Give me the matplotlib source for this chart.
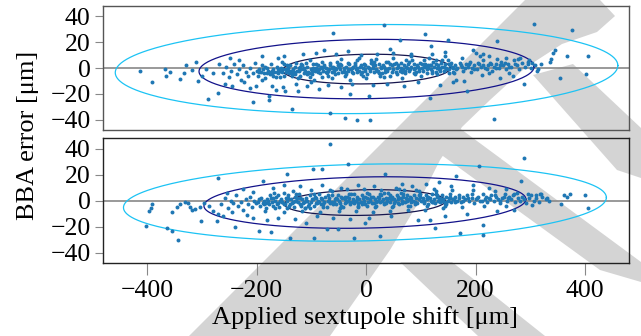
import numpy as np
import matplotlib
matplotlib.use('Agg')
import matplotlib.pyplot as plt
from matplotlib.patches import Polygon

plt.rcParams['font.family'] = ['Liberation Serif', 'DejaVu Serif']

# scatter points (applied shift [um], BBA error [um])
top_points = [
    # core band
    (-262, -4), (-255, 1), (-250, -7), (-246, -2), (-241, 3), (-236, -5), (-232, -1), (-228, -9),
    (-224, 2), (-219, -3), (-215, -6), (-211, 0), (-207, -4), (-203, 4), (-200, -2),
    (-198, -6), (-195, -1), (-192, -3), (-190, 2), (-187, -4), (-184, -8), (-181, 0), (-179, -2),
    (-176, -5), (-173, 3), (-170, -1), (-168, -3), (-165, -7), (-162, 1), (-160, -4), (-157, -2),
    (-154, 5), (-151, -1), (-149, -6), (-146, -3), (-143, 0), (-141, -2), (-138, 2), (-136, -5),
    (-133, -1), (-131, -3), (-128, 4), (-126, -2), (-123, 0), (-121, -6), (-118, -1), (-116, 2),
    (-113, -4), (-111, -2), (-108, 1), (-106, -3), (-103, 6), (-101, -1), (-98, -5), (-96, 0),
    (-93, -2), (-91, 3), (-88, -3), (-86, -1), (-83, 1), (-81, -7), (-78, -2), (-76, 2),
    (-73, 0), (-71, -4), (-68, -1), (-66, 4), (-63, -3), (-61, 1),
    (-58, -2), (-56, 0), (-53, 5), (-51, -4), (-48, -1), (-46, 2), (-43, -3), (-41, 0),
    (-38, -6), (-36, 1), (-33, -2), (-31, 3), (-28, -1), (-26, 0), (-23, -4), (-21, 2),
    (-18, -1), (-16, 6), (-13, -2), (-11, 1), (-8, -3), (-6, 0), (-3, 3), (-1, -1),
    (2, -5), (4, 1), (7, -2), (9, 4), (12, 0), (14, -3), (17, 2), (19, -1),
    (22, -2), (24, 3), (27, 0), (29, -4), (32, 1), (34, -1), (37, 5), (39, -2),
    (42, 0), (44, -6), (47, 2), (49, -1), (52, 3), (54, -3), (57, 0), (59, 1),
    (62, -2), (64, 4), (67, -1), (69, 2), (72, -4), (74, 0), (77, 3), (79, -2),
    (82, 1), (84, 6), (87, -1), (89, 0), (92, -3), (94, 2), (97, -1), (99, 4),
    (102, 0), (104, -2), (107, 3), (109, 1), (112, -4), (114, 0), (117, 2), (119, -1),
    (122, 5), (124, 1), (127, -3), (129, 0), (132, 2), (134, -1), (137, 4), (139, 1),
    (142, -2), (144, 3), (147, 0), (149, 6), (152, -1), (154, 2), (157, 1), (159, -3),
    (163, 2), (167, 0), (171, 4), (175, 1), (178, -2), (182, 3), (186, 1), (190, 5),
    (194, 0), (198, 2), (202, -1), (206, 3), (210, 1), (214, 6), (218, 0), (222, 2),
    (226, 4), (230, -2), (234, 1), (238, 3), (242, 0), (247, 5), (251, 2), (256, -1),
    (260, 3), (265, 1), (270, 6), (275, 2), (280, -1), (285, 4), (290, 1), (296, 3),
    (302, 0), (308, 2), (314, -1),
    (-185, 1), (-177, -3), (-169, -6), (-161, -1), (-153, -3), (-145, 2), (-137, -2), (-129, -5),
    (-121, 1), (-113, -1), (-105, -4), (-97, 3), (-89, -2), (-81, 0), (-73, -3), (-65, 2),
    (-57, -5), (-49, 1), (-41, -2), (-33, 4), (-25, -3), (-17, 0), (-9, -5), (-1, 2),
    (7, -1), (15, 5), (23, -4), (31, 2), (39, -1), (47, -3), (55, 4), (63, 0),
    (71, -2), (79, 5), (87, -4), (95, 1), (103, 3), (111, -1), (119, 2), (127, 6),
    (135, -2), (143, 1), (151, 3), (159, 0),
    (-190, -9), (-172, -4), (-158, -7), (-140, -4), (-125, -8), (-110, 4), (-95, -9), (-80, 5),
    (-62, -8), (-45, 7), (-30, -9), (-12, 8), (0, -8), (18, 7), (33, -7), (50, 8),
    (66, -8), (83, 9), (100, -6), (115, 8), (130, -5), (145, 9), (160, -4), (176, 8),
    (192, -3), (208, 9), (224, -4), (240, 7), (262, -4), (282, 8), (298, 6),
    (-196, -3), (-188, -1), (-180, -4), (-171, -2), (-163, -3), (-155, 0), (-147, -1), (-139, -3),
    (-130, 1), (-122, -2), (-114, 0), (-107, -5), (-99, -2), (-92, 0), (-84, -4), (-77, 1),
    (-69, -2), (-62, 0), (-54, -1), (-47, 3), (-39, -3), (-32, -1), (-24, 1), (-17, -3),
    (-10, 2), (-2, -2), (5, 0), (13, 2), (20, -2), (28, 1), (35, -3), (43, 3),
    (50, -1), (58, 2), (65, -3), (73, 1), (80, -1), (88, 3), (96, -2), (105, 1),
    (113, 2), (121, -2), (128, 3), (136, 0), (146, -1), (155, 4), (165, -1), (173, 2),
    (181, 0), (189, 3), (197, -1), (205, 4), (213, 2), (221, -1), (229, 3), (237, 0),
    (245, 2), (253, 4), (262, 1), (272, 3),
    (-150, 3), (-135, -6), (-118, 3), (-102, -7), (-87, 2), (-70, -6), (-52, 2), (-36, -5),
    (-20, 4), (-5, -6), (10, 6), (26, -6), (41, 5), (57, -5), (73, 6), (90, -5),
    (106, 6), (121, -4), (138, 6), (152, -4),
    # spread
    (-412, -2), (-390, -10.5), (-368, -1), (-366, -6), (-358, -3), (-340, -8.5), (-329, 2),
    (-332, -3.6), (-318, -1.5), (-310, 4.6), (-307, -10), (-300, -6), (-292, -1), (-289, -24),
    (-280, -4), (-271, -19), (-268, 3.3), (-258, -12), (-248, 7.5), (-244, -14), (-232, 6),
    (-222, -11), (-211, -15.6), (-206, -26), (-201, -13.6), (-190, 9), (-178, -22), (-177, -25),
    (-172, -14), (-165, -17), (-160, 8), (-152, -15), (-150, 9.2), (-148, -18), (-135, -31.5),
    (-128, -12), (-124, -18), (-115, 11), (-108, -14), (-100, -11), (-92, 12), (-85, -16),
    (-76, 14), (-70, -13), (-66, -35), (-61, 27.4), (-55, 11), (-45, -15), (-38, -39),
    (-32, 13), (-29, -20), (-25, -12), (-17, -40.5), (-10, 10), (6, -21.5), (7, -40.5),
    (12, -13), (20, 11), (32, 33), (38, -12), (44, 15), (50, 12), (62, 22), (70, -14),
    (82, 10.8), (95, -11), (108, 26.7), (117, -23), (118, 17), (120, 11), (135, -13),
    (144, 12.5), (150, 21.5), (159, -11), (165, -9), (179, -10), (184, -18), (196, 14),
    (200, 12), (211, -5.4), (214, 10.8), (225, 9), (233, -39.5), (239, 21), (245, -8),
    (255, 8), (268, -6), (278, 7), (289, -12.3), (295, 5), (303, 4), (307, 34.4), (312, -2),
    (320, 3), (336, 5), (338, 7), (342, 12), (345, 14), (354, -8), (368, 9.5), (377, 29.8),
    (402, -4.6), (406, 9.5),
]

bottom_points = [
    # core band
    (-265, -3), (-258, 2), (-252, -6), (-247, 0), (-243, -2), (-238, 4), (-233, -4), (-229, -1),
    (-225, -7), (-220, 1), (-216, -3), (-212, 3), (-208, -5), (-204, 0), (-201, -2),
    (-197, -1), (-194, -4), (-191, 2), (-189, -2), (-186, 0), (-183, -6), (-180, 1), (-178, -3),
    (-175, 4), (-172, -1), (-169, -4), (-167, 0), (-164, 3), (-161, -2), (-159, -5), (-156, 1),
    (-153, -1), (-150, 6), (-148, -3), (-145, 0), (-142, 2), (-140, -4),
    (-137, 1), (-135, -2), (-132, -5), (-130, 3), (-127, 0), (-125, -1), (-122, 5), (-120, -3),
    (-117, 1), (-115, -2), (-112, -6), (-110, 2), (-107, 0), (-105, -3), (-102, 4), (-100, -1),
    (-97, 1), (-95, -4), (-92, 2), (-90, -2), (-87, 0), (-85, 5), (-82, -3), (-80, 1),
    (-77, -1), (-75, 3), (-72, -5), (-70, 0), (-67, 2), (-65, -2), (-62, 7),
    (-59, -1), (-57, 1), (-54, -3), (-52, 4), (-49, 0), (-47, -2), (-44, 2), (-42, -5),
    (-39, 1), (-37, -1), (-34, 3), (-32, 0), (-29, -3), (-27, 5), (-24, 1), (-22, -2),
    (-19, 0), (-17, 3), (-14, -4), (-12, 1), (-9, -1), (-7, 4), (-4, 0), (-2, -3),
    (1, 2), (3, -1), (6, 5), (8, 0), (11, -2), (13, 3), (16, 1), (18, -4),
    (21, 0), (23, 2), (26, -1), (28, 4), (31, 1), (33, -3), (36, 2), (38, 0),
    (41, 6), (43, -1), (46, 1), (48, 3), (51, -2), (53, 0), (56, 4), (58, 1),
    (61, -3), (63, 2), (66, 0), (68, 5), (71, -1), (73, 2), (76, -4), (78, 1),
    (81, 3), (83, -1), (86, 0), (88, 4), (91, 2), (93, -2), (96, 1), (98, 3),
    (101, 0), (104, 2), (106, -1), (109, 4), (111, 1), (114, -3), (116, 2), (119, 0),
    (121, 5), (124, 1), (126, -2), (129, 3), (131, 0), (134, 2), (136, -1), (139, 4),
    (141, 1), (144, -2), (146, 3), (149, 0), (151, 2), (154, 5), (156, -1), (159, 1),
    (162, 3), (166, 0), (169, 2),
    (173, -1), (177, 3), (181, 1), (185, 4), (189, 0), (193, 2), (197, -2), (201, 1),
    (205, 3), (209, 0), (213, 5), (217, 1), (221, -1), (225, 2), (229, 4), (233, 0),
    (237, 3), (241, 1), (245, -2), (249, 2), (253, 5), (257, 0), (261, 3), (265, 1),
    (269, 4), (273, -1), (277, 2), (281, 0), (285, 3), (289, 1), (293, -2), (297, 2),
    (301, 4), (306, 0), (311, 2), (316, -1), (322, 3), (328, 1), (334, 0),
    (-182, -2), (-174, 2), (-166, -6), (-158, 0), (-150, -3), (-142, 4), (-134, -1), (-126, 2),
    (-118, -4), (-110, 0), (-102, -6), (-94, 3), (-86, -1), (-78, -3), (-70, 4), (-62, -1),
    (-54, 2), (-46, -4), (-38, 3), (-30, -1), (-22, 5), (-14, -2), (-6, 2), (2, -4),
    (10, 3), (18, -1), (26, 5), (34, -2), (42, 2), (50, -4), (58, 3), (66, -2),
    (74, 4), (82, 0), (90, -3), (98, 5), (106, -2), (114, 3), (122, -1), (130, 4),
    (138, 0), (146, -3), (154, 2), (162, -1),
    (-185, -8), (-168, 6), (-150, -9), (-133, 7), (-117, -8), (-100, 8), (-84, -9), (-66, 8),
    (-50, -8), (-35, 9), (-18, -8), (-3, 9), (12, -9), (28, 8), (44, -8), (60, 9),
    (76, -7), (92, 8), (108, -7), (125, 9), (140, -6), (157, 8), (175, -5), (195, 8),
    (215, -4), (235, 7), (255, -4), (275, 6), (295, 5), (318, 5),
    (-195, 1), (-187, -3), (-179, 0), (-170, 2), (-162, -3), (-154, -1), (-146, 2), (-138, -3),
    (-129, 0), (-121, 2), (-113, -1), (-106, -4), (-98, 1), (-91, -2), (-83, 2), (-76, -1),
    (-68, 0), (-61, -3), (-53, 1), (-46, 3), (-38, -2), (-31, 2), (-23, -1), (-16, 1),
    (-8, -3), (-1, 3), (7, 1), (14, -2), (22, 3), (29, 0), (37, -2), (44, 4),
    (52, 1), (59, -2), (67, 3), (74, 0), (82, 2), (89, -1), (97, 4), (105, 0),
    (112, 2), (120, -1), (128, 5), (137, 1), (145, -1), (153, 3), (161, 1), (170, 4),
    (178, 0), (186, 2), (194, 5), (203, 2), (211, 0), (219, 3), (227, 1), (236, 4),
    (244, 0), (252, 3), (260, 2), (270, 5),
    (-160, 4), (-144, -6), (-128, 5), (-111, -6), (-95, 5), (-79, -5), (-63, 4), (-47, -6),
    (-31, 5), (-15, -5), (1, 6), (17, -5), (32, 6), (48, -5), (64, 6), (80, -4),
    (96, 7), (112, -4), (128, 7), (145, -4),
    # spread
    (-402, -19.4), (-396, -8), (-392, -6), (-390, -3), (-363, -21), (-355, -23.5), (-355, -8.4),
    (-346, -5), (-340, -3), (-343, -30), (-330, -1), (-325, -2), (-321, -5), (-318, -7),
    (-313, -6.5), (-303, -5), (-302, -15.6), (-296, -2), (-287, -4), (-280, -8), (-273, -16),
    (-270, 17.4), (-270, -10), (-262, -12), (-254, 6), (-245, -9), (-240, -20), (-225, 9),
    (-218, -11), (-206, 6.6), (-206, -13.4), (-196, -23.5), (-188, 15.4), (-180, -15),
    (-174, -24), (-170, 10), (-160, -13), (-150, 12), (-145, 20.4), (-139, -28.4), (-130, -14),
    (-120, 11), (-110, -17), (-97, 24), (-95, -29), (-90, -12), (-80, 24), (-80, 12),
    (-71, -22), (-66, 43.5), (-60, -13), (-51, -21.5), (-45, 10), (-33, 28.4), (-30, -14),
    (-22, -28.4), (-15, 12), (-2, -17), (5, -13), (15, 11), (26, -27), (35, 20.4), (45, -12),
    (55, 10), (66, 12.6), (70, 8.4), (84, 11), (95, -15), (110, 13), (117, -14.6), (126, -21),
    (134, 14), (145, -12), (155, 11), (164, 19), (172, -24.7), (185, -10), (195, 12),
    (207, 26.2), (214, -19), (213, -26.5), (225, 10), (240, -8), (255, 9), (270, -7),
    (283, 15.4), (289, 32.5), (303, -3.4), (310, 4), (320, 5), (330, 2), (356, -2.6),
    (362, 4), (367, 3), (373, 5), (400, 4), (406, -5.6),
]

# confidence ellipse parameters per panel: mean, sigma, correlation
top_mean = (1.0, -0.8)
top_sigma = (153.0, 11.5)
top_rho = 0.08
bottom_mean = (-2.0, -1.5)
bottom_sigma = (147.0, 9.9)
bottom_rho = 0.13
n_sigmas = [1, 2, 3]
ellipse_colors = ['#16164e', '#12128a', '#1cc3f4']

x_ticks = [-400, -200, 0, 200, 400]
y_ticks = [-40, -20, 0, 20, 40]

# watermark outline in pixel coordinates of the 641x336 picture
watermark_left = [(525, 0), (600, 0), (615, 16), (597, 32), (562, 44), (525, 68), (490, 100),
                  (462, 127), (440, 160), (420, 200), (390, 250), (330, 336), (189, 336)]
watermark_upper = [(533, 75), (573, 64), (641, 128), (641, 178), (617, 170)]
watermark_lower = [(403, 127), (458, 127), (641, 262), (641, 282), (600, 270)]
watermark_foot = [(400, 262), (452, 262), (545, 336), (478, 336)]


def draw_ellipses(ax, mean, sigma, rho):
    t = np.linspace(0, 2 * np.pi, 300)
    for n, col in zip(n_sigmas, ellipse_colors):
        ex = mean[0] + n * sigma[0] * np.cos(t)
        ey = mean[1] + n * sigma[1] * (rho * np.cos(t) + np.sqrt(1 - rho ** 2) * np.sin(t))
        ax.plot(ex, ey, color=col, lw=0.9, zorder=2)


def style_axes(ax, show_x, spine_color):
    ax.set_facecolor('none')
    ax.set_xlim(-480, 480)
    ax.set_ylim(-48, 48)
    ax.set_yticks(y_ticks)
    ax.set_xticks(x_ticks)
    for s in ax.spines.values():
        s.set_color(spine_color)
        s.set_linewidth(1.0)
    ax.tick_params(axis='y', length=6, width=0.8, color='#888888', pad=3,
                   labelsize=18.5)
    if show_x:
        ax.tick_params(axis='x', length=8.5, width=0.8, color='#888888', pad=4,
                       labelsize=18.5)
    else:
        ax.tick_params(axis='x', length=0, labelbottom=False)


def plot_panel(ax, points, mean, sigma, rho, show_x, spine_color):
    pts = np.array(points)
    ax.axhline(0, color='#888888', lw=1.2, zorder=1)
    draw_ellipses(ax, mean, sigma, rho)
    ax.scatter(pts[:, 0], pts[:, 1], s=8, color='#1f77b4', linewidths=0, zorder=3)
    style_axes(ax, show_x, spine_color)


def to_fig(verts):
    return [(x / 641.0, 1 - y / 336.0) for x, y in verts]


if __name__ == '__main__':
    fig = plt.figure(figsize=(6.41, 3.36), dpi=100)
    fig.patch.set_facecolor('white')

    for outline in (watermark_left, watermark_upper, watermark_lower, watermark_foot):
        fig.add_artist(Polygon(to_fig(outline), closed=True, transform=fig.transFigure,
                               facecolor='#d4d4d4', edgecolor='none', zorder=-5))

    ax1 = fig.add_axes([0.161, 0.613, 0.820, 0.369])
    ax2 = fig.add_axes([0.161, 0.217, 0.820, 0.372])

    plot_panel(ax1, top_points, top_mean, top_sigma, top_rho, False, '#555555')
    plot_panel(ax2, bottom_points, bottom_mean, bottom_sigma, bottom_rho, True, '#222222')

    fig.text(28 / 641.0, 1 - 135 / 336.0, 'BBA error [μm]', rotation=90,
             ha='center', va='center', fontsize=19)
    fig.text(365 / 641.0, 1 - 318 / 336.0, 'Applied sextupole shift [μm]',
             ha='center', va='center', fontsize=19)

    fig.savefig('out.png', dpi=100)
